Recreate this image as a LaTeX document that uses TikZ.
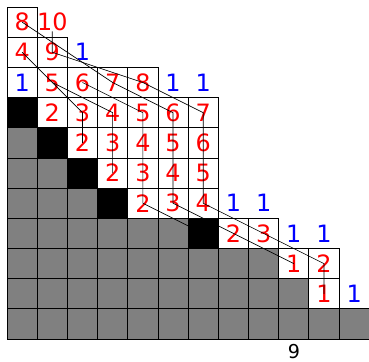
\documentclass[tikz,border=0pt]{standalone}
\usepackage{fontspec}
\setmainfont{DejaVu Sans}
\newcommand\numfont{\fontsize{22.5}{27}\selectfont}
\newcommand\labfont{\fontsize{18}{22}\selectfont}
\definecolor{cellgray}{RGB}{128,128,128}
\tikzset{
  boxline/.style={draw=black, line width=0.8pt},
  num/.style={text=red, font=\numfont, inner sep=0pt},
  bnum/.style={text=blue, font=\numfont, inner sep=0pt},
  pathline/.style={draw=black, line width=0.6pt},
}
\begin{document}
\begin{tikzpicture}
\useasboundingbox (-0.232,0.232) rectangle (11.99,-11.755);
% white cells
\foreach \r/\a/\b in {0/0/0,1/0/1,2/0/4,3/1/6,4/2/6,5/3/6,6/4/6,7/7/8,8/9/10,9/10/10}{
  \foreach \c in {\a,...,\b}{
    \fill[white] (\c,-\r) rectangle ++(1,-1);
  }
}
% gray cells
\foreach \r/\a/\b in {4/0/0,5/0/1,6/0/2,7/0/5,8/0/8,9/0/9,10/0/11}{
  \foreach \c in {\a,...,\b}{
    \fill[cellgray] (\c,-\r) rectangle ++(1,-1);
  }
}
% numbers
\foreach \r/\c/\t in {0/0/8,0/1/10,1/0/4,1/1/9,2/1/5,2/2/6,2/3/7,2/4/8,
  3/1/2,3/2/3,3/3/4,3/4/5,3/5/6,3/6/7,4/2/2,4/3/3,4/4/4,4/5/5,4/6/6,
  5/3/2,5/4/3,5/5/4,5/6/5,6/4/2,6/5/3,6/6/4,7/7/2,7/8/3,8/9/1,8/10/2,9/10/1}{
  \node[num] (n-\r-\c) at (\c+0.5,-\r-0.5) {\t};
}
\foreach \r/\c in {1/2,2/0,2/5,2/6,6/7,6/8,7/9,7/10,9/11}{
  \node[bnum] (n-\r-\c) at (\c+0.5,-\r-0.5) {1};
}
\coordinate (k-7-6) at (6.5,-7.5);
% paths
\draw[pathline] (n-0-1.south) -- (n-1-1.center) -- (n-2-4.center) -- (n-3-6.center)
  -- (n-4-6.center) -- (n-5-6.center) -- (n-6-6.center) -- (n-7-8.center)
  -- (n-8-10.center) -- (n-9-10.center);
\draw[pathline] (n-0-0.center) -- (n-2-3.center) -- (n-3-5.center) -- (n-4-5.center)
  -- (n-5-5.center) -- (n-6-5.center) -- (n-7-7.center) -- (n-8-9.center);
\draw[pathline] (n-2-2.center) -- (n-3-4.center) -- (n-4-4.center) -- (n-5-4.center)
  -- (n-6-4.center) -- (k-7-6);
\draw[pathline] (n-2-1.center) -- (n-3-3.center) -- (n-4-3.center) -- (n-5-3.center);
\draw[pathline] (n-1-0.center) -- (n-3-2.center) -- (n-4-2.center);
% black cells
\foreach \r/\c in {3/0,4/1,5/2,6/3,7/6}{
  \fill[black] (\c,-\r) rectangle ++(1,-1);
}
% cell borders
\foreach \r/\a/\b in {0/0/0,1/0/1,2/0/4,3/0/6,4/0/6,5/0/6,6/0/6,7/0/8,8/0/10,9/0/10,10/0/11}{
  \foreach \c in {\a,...,\b}{
    \draw[boxline] (\c,-\r) rectangle ++(1,-1);
  }
}
\node[font=\labfont, text=black, inner sep=0pt] (lab) at (9.5,-11.42) {9};
\end{tikzpicture}
\end{document}
